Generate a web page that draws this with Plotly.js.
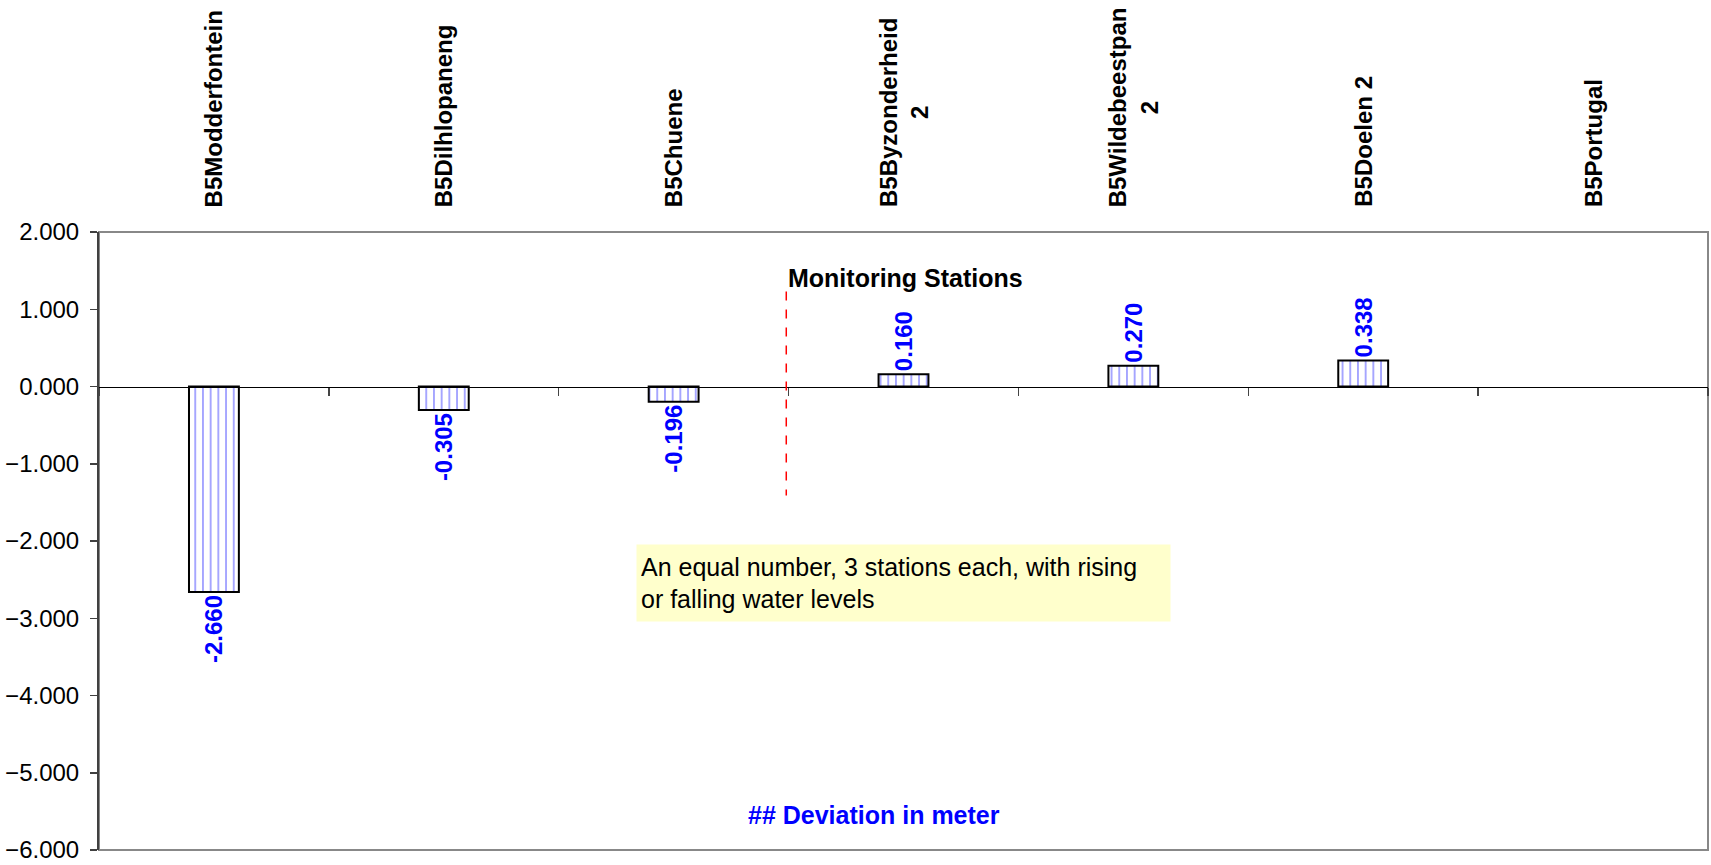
<!DOCTYPE html>
<html>
<head>
<meta charset="utf-8">
<script src="https://cdn.plot.ly/plotly-3.0.1.min.js"></script>
<style>html,body{margin:0;padding:0;background:#fff;}#chart{width:1711px;height:865px;}</style>
</head>
<body>
<div id="chart"></div>
<script>
// Data
const stations = ["B5Modderfontein", "B5Dilhlopaneng", "B5Chuene", "B5Byzonderheid 2", "B5Wildebeestpan 2", "B5Doelen 2", "B5Portugal"];
const stationLabels = ["B5Modderfontein", "B5Dilhlopaneng", "B5Chuene", "B5Byzonderheid<br>2", "B5Wildebeestpan<br>2", "B5Doelen 2", "B5Portugal"];
const deviation = [-2.660, -0.305, -0.196, 0.160, 0.270, 0.338, null];
const yTicks = [2, 1, 0, -1, -2, -3, -4, -5, -6];

const FONT = "Liberation Sans, Arial, Helvetica, sans-serif";

const bars = {
  type: "bar",
  x: stations,
  y: deviation,
  width: 0.217,
  marker: {
    color: "white",
    line: {color: "black", width: 2},
    pattern: {shape: "|", fgcolor: "#8f8fff", bgcolor: "white", size: 7.7, solidity: 0.2}
  },
  texttemplate: "%{y:.3f}",
  textposition: "outside",
  textangle: -90,
  constraintext: "none",
  cliponaxis: false,
  textfont: {family: FONT, size: 24, color: "#0000ff", weight: "bold"},
  hoverinfo: "x+y",
  showlegend: false
};

const categoryAnnotations = stations.map((s, i) => ({
  xref: "x", yref: "paper", x: s, y: 1,
  xanchor: "center", yanchor: "bottom", yshift: 23,
  text: stationLabels[i], textangle: -90, align: "center",
  showarrow: false,
  font: {family: FONT, size: 24, color: "black", weight: "bold"}
}));

const layout = {
  width: 1711,
  height: 865,
  margin: {l: 99, r: 3, t: 232, b: 15},
  paper_bgcolor: "white",
  plot_bgcolor: "white",
  font: {family: FONT, size: 24, color: "black"},
  showlegend: false,
  xaxis: {
    type: "category",
    categoryorder: "array",
    categoryarray: stations,
    range: [-0.5, 6.5],
    anchor: "free",
    position: 0.75,
    side: "bottom",
    showline: true,
    linecolor: "black",
    linewidth: 1.5,
    ticks: "outside",
    ticklen: 8,
    tickwidth: 1.5,
    tickcolor: "#444",
    tickson: "boundaries",
    showticklabels: false,
    showgrid: false,
    zeroline: false
  },
  yaxis: {
    range: [-6, 2],
    tickvals: yTicks,
    tickformat: ".3f",
    ticks: "outside",
    ticklen: 7,
    tickwidth: 1.5,
    tickcolor: "#404040",
    showline: true,
    linecolor: "#404040",
    linewidth: 2,
    showgrid: false,
    zeroline: false,
    tickfont: {family: FONT, size: 24, color: "black"},
    ticklabelstandoff: 6
  },
  shapes: [
    {type: "rect", xref: "paper", yref: "paper", x0: 0, x1: 1, y0: 0, y1: 1,
     line: {color: "#888888", width: 2}, fillcolor: "rgba(0,0,0,0)", layer: "below"},
    {type: "line", xref: "x", yref: "y", x0: 2.49, x1: 2.49, y0: 1.23, y1: -1.41,
     line: {color: "red", width: 1.5, dash: "dash"}}
  ],
  annotations: categoryAnnotations.concat([
    {xref: "x", yref: "y", x: 2.49, y: 1.41, xanchor: "left", yanchor: "middle",
     text: "Monitoring Stations", showarrow: false,
     font: {family: FONT, size: 25, color: "black", weight: "bold"}},
    {xref: "x", yref: "y", x: 3.0, y: -2.55, xanchor: "center", yanchor: "middle",
     text: "An equal number, 3 stations each, with rising<br>or falling water levels",
     showarrow: false, align: "left", valign: "middle",
     width: 525, height: 68, borderpad: 4, bgcolor: "#ffffcc",
     font: {family: FONT, size: 25, color: "black"}},
    {xref: "x", yref: "y", x: 2.87, y: -5.55, xanchor: "center", yanchor: "middle",
     text: "## Deviation in meter", showarrow: false,
     font: {family: FONT, size: 25, color: "#0000ff", weight: "bold"}}
  ])
};

Plotly.newPlot("chart", [bars], layout, {displayModeBar: false, staticPlot: true});
</script>
</body>
</html>
